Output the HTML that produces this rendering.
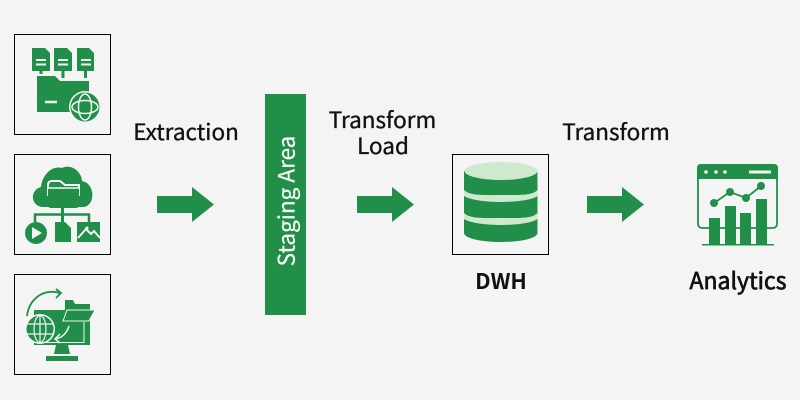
<!DOCTYPE html>
<html><head><meta charset="utf-8">
<style>
html,body{margin:0;padding:0;background:#f4f4f4;width:800px;height:400px;overflow:hidden}
svg{display:block}
text{font-family:"Noto Sans CJK JP","Liberation Sans",sans-serif;fill:#111}
</style></head>
<body>
<svg width="800" height="400" viewBox="0 0 800 400" xmlns="http://www.w3.org/2000/svg">
<rect width="800" height="400" fill="#f4f4f4"/>
<!-- boxes -->
<g fill="none" stroke="#000" stroke-width="1">
<rect x="14.500" y="34.500" width="96" height="100"/>
<rect x="14.500" y="154.500" width="96" height="100"/>
<rect x="14.500" y="274.500" width="96" height="100"/>
<rect x="452.500" y="154.500" width="96" height="100"/>
</g>
<!-- icon 1 -->
<g fill="#218e4a">
<path d="M32 48H45L50 53V71H32Z"/><path d="M54 48H67L72 53V71H54Z"/><path d="M77 48H89L94 53V71H77Z"/>
<rect x="39.500" y="70" width="3" height="4"/><rect x="61.500" y="70" width="3" height="8"/><rect x="84" y="70" width="3" height="8"/>
<path d="M37 76H55L60 81H89V112H37Z"/>
<circle cx="85" cy="107" r="16" fill="#f4f4f4"/>
<circle cx="85" cy="107" r="14.500"/>
</g>
<g stroke="#f4f4f4" fill="none">
<path d="M36 60H46M36 64.500H46M58 60H68M58 64.500H68M81 60H91M81 64.500H91" stroke-width="2"/>
<path d="M45 102H57" stroke-width="2.500"/>
<ellipse cx="85" cy="107" rx="6.500" ry="13" stroke-width="1.500"/>
<ellipse cx="85" cy="107" rx="13" ry="6.500" stroke-width="1.500"/>
</g>
<!-- icon 2 -->
<g fill="#218e4a">
<path d="M42 207C30 205 30 190 41 187C42 175 52 165 62 168C71 163 82 172 82 181C95 183 96 205 84 207Z"/>
<path d="M48 196V185Q48 181 52 181H60L65 185H79V196" fill="none" stroke="#f4f4f4" stroke-width="2"/>
<path d="M48 189H79V205Q79 208 76 208H51Q48 208 48 205Z"/>
<path d="M48 188H79" stroke="#f4f4f4" stroke-width="1.500"/>
<rect x="61" y="208" width="3" height="14"/>
<path d="M35 222V214.500H89V222" fill="none" stroke="#218e4a" stroke-width="2.500"/>
<circle cx="36" cy="233" r="11"/>
<path d="M55 222H65L71 228V242H55Z"/>
<rect x="77" y="222" width="23" height="20"/>
</g>
<path d="M32 227L42 233L32 239Z" fill="#f4f4f4"/>
<path d="M78 238L86 229L91 234L94 231L100 238" fill="none" stroke="#f4f4f4" stroke-width="2"/>
<circle cx="87" cy="228" r="1.500" fill="#f4f4f4"/>
<!-- icon 3 -->
<path d="M27 316C29 300 42 288 60 293" fill="none" stroke="#218e4a" stroke-width="1.800"/>
<path d="M56 289L61 293L56 298" fill="none" stroke="#218e4a" stroke-width="1.800"/>
<g fill="#218e4a">
<rect x="34" y="310" width="56" height="35"/>
<path d="M56 345H68L70 354H54Z"/>
<rect x="46" y="356" width="32" height="5"/>
<path d="M65 300H73L75 304H90V311H65Z"/>
</g>
<path d="M34 342.500H84V322" fill="none" stroke="#f4f4f4" stroke-width="1"/>
<path d="M67 310H95L89 321H63Z" fill="#218e4a" stroke="#f4f4f4" stroke-width="1"/>
<path d="M69 326C67 333 62 338 55 339M60 334L55 339L60 343" fill="none" stroke="#f4f4f4" stroke-width="1.500"/>
<circle cx="40" cy="329" r="15" fill="#f4f4f4"/>
<circle cx="40" cy="329" r="13.500" fill="#218e4a"/>
<g fill="none" stroke="#f4f4f4" stroke-width="1.200">
<ellipse cx="40" cy="329" rx="6" ry="13.500"/>
<path d="M40 315V343M27 324H53M27 334H53"/>
</g>
<!-- staging -->
<rect x="265" y="94" width="41" height="221" fill="#218e4a"/>
<text transform="translate(294.500 201) rotate(-90)" text-anchor="middle" font-size="22.500" style="fill:#f0f5f0;stroke:#f0f5f0;stroke-width:.25px">Staging Area</text>
<!-- arrows -->
<g fill="#218e4a">
<path d="M157 196H192V187L214 204.500L192 222V213H157Z"/>
<path d="M357 196H392V187L414 204.500L392 222V213H357Z"/>
<path d="M587 196H622V187L644 204.500L622 222V213H587Z"/>
</g>
<!-- DWH -->
<path d="M464 171V233C464 238 480 242 501 242S537.500 238 537.500 233V171Z" fill="#218e4a"/>
<ellipse cx="501" cy="171" rx="36.500" ry="9" fill="#cfe9cf"/>
<path d="M464 190C470 196 485 195 501 195S532 196 537.500 190V196C532 200 516 202 501 202S470 200 464 196Z" fill="#cfe9cf"/>
<path d="M464 213C470 219 485 218 501 218S532 219 537.500 213V219C532 223 516 225 501 225S470 223 464 219Z" fill="#cfe9cf"/>
<!-- analytics -->
<rect x="698" y="165" width="79" height="63" rx="4" fill="none" stroke="#218e4a" stroke-width="1.800"/>
<path d="M697 179V168Q697 164 701 164H774Q778 164 778 168V179Z" fill="#218e4a"/>
<g fill="#f4f4f4"><circle cx="706" cy="172" r="1.800"/><circle cx="716" cy="172" r="1.800"/><circle cx="725" cy="172" r="1.800"/><rect x="749" y="170.500" width="22" height="3"/></g>
<path d="M714 203L730 192L746 198L761 186" fill="none" stroke="#218e4a" stroke-width="1.800"/>
<g fill="#218e4a">
<circle cx="714" cy="203" r="4"/><circle cx="730" cy="192" r="4"/><circle cx="746" cy="198" r="4"/><circle cx="761" cy="186" r="4"/>
<rect x="709" y="218" width="11" height="26"/><rect x="725" y="206" width="11" height="38"/><rect x="740" y="213" width="11" height="31"/><rect x="756" y="199" width="11" height="45"/>
<rect x="702" y="244" width="72" height="1.500"/>
</g>
<!-- labels -->
<g font-size="22.500" text-anchor="middle" style="stroke:#111;stroke-width:.35px">
<text x="186" y="140">Extraction</text>
<text x="382.500" y="128">Transform</text>
<text x="383" y="154">Load</text>
<text x="616" y="140">Transform</text>
</g>
<text x="501" y="289" font-size="21.700" text-anchor="middle" font-weight="700">DWH</text>
<text x="738" y="289" font-size="23" text-anchor="middle" style="stroke:#111;stroke-width:.7px">Analytics</text>
</svg>
</body></html>
